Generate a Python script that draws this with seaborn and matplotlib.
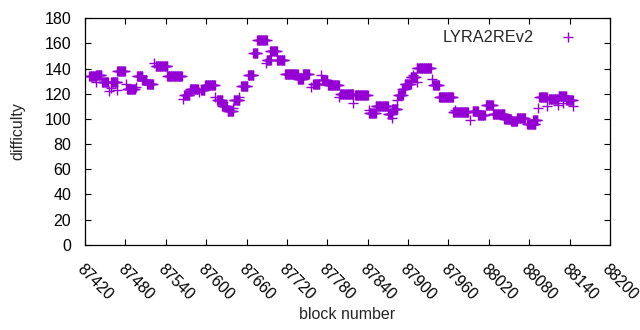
import numpy as np
import pandas as pd
import matplotlib
matplotlib.use("Agg")
import matplotlib.pyplot as plt
import seaborn as sns

# Plateaus of constant difficulty: first block, last block, difficulty
seg_start = [87426, 87436, 87445, 87459, 87468, 87482, 87497, 87505, 87512, 87525,
             87542, 87567, 87576, 87592, 87598, 87616, 87624, 87632, 87641, 87652,
             87662, 87670, 87676, 87690, 87695, 87705, 87717, 87736, 87744, 87759,
             87772, 87781, 87799, 87821, 87842, 87852, 87870, 87876, 87885, 87891,
             87895, 87904, 87913, 87937, 87946, 87967, 87996, 88004, 88016, 88026,
             88043, 88053, 88062, 88077, 88086, 88095, 88109, 88124, 88135]
seg_end = [87435, 87444, 87454, 87468, 87479, 87494, 87505, 87511, 87521, 87542,
           87564, 87575, 87588, 87597, 87613, 87624, 87631, 87640, 87649, 87661,
           87670, 87676, 87690, 87696, 87705, 87716, 87736, 87744, 87753, 87768,
           87780, 87797, 87818, 87840, 87852, 87870, 87876, 87884, 87892, 87895,
           87904, 87912, 87934, 87946, 87967, 87989, 88004, 88014, 88026, 88043,
           88053, 88062, 88074, 88089, 88092, 88106, 88123, 88135, 88145]
seg_value = [134, 135, 129, 129, 138, 124, 134, 131, 128, 142,
             134, 119, 124, 123, 127, 115, 110, 106, 115, 126,
             135, 152, 163, 147, 154, 147, 136, 132, 136, 128,
             131, 127, 120, 119, 105, 110, 104, 108, 119, 124,
             128, 133, 140.5, 127, 117, 105.5, 106, 103, 111, 104,
             100, 98, 101, 96, 99, 117, 116, 118, 115]

# Isolated blocks
single_block = [87436, 87456, 87459, 87468, 87481, 87496, 87523, 87566, 87589, 87613,
                87640, 87649, 87689, 87756, 87771, 87797, 87818, 87842, 87876, 87884,
                87907, 87913, 87936, 87970, 87992, 88093, 88106, 88123, 88130, 88145]
single_value = [129, 122, 124.5, 123, 128, 125, 144, 116, 121, 117,
                109, 117, 144, 125, 135, 117, 113, 107, 101, 115,
                135, 129, 132, 107, 99, 109, 110, 111, 113, 110]

xticks = list(range(87420, 88201, 60))
yticks = list(range(0, 181, 20))

blocks, values = [], []
for s, e, v in zip(seg_start, seg_end, seg_value):
    for b in range(s, e + 1):
        blocks.append(b)
        values.append(v)
blocks += single_block
values += single_value
df = pd.DataFrame({"block": blocks, "difficulty": values})

sns.set_theme(style="white")
plt.rcParams["font.family"] = ["Liberation Sans", "DejaVu Sans"]

fig = plt.figure(figsize=(6.4, 3.3), dpi=100)
ax = fig.add_axes([0.133, 0.258, 0.820, 0.687])

color = "#9400d3"
sns.scatterplot(data=df, x="block", y="difficulty", marker="+", color=color,
                s=48, linewidth=1.0, ax=ax, label="LYRA2REv2", legend=False)

ax.set_xlim(87420, 88200)
ax.set_ylim(0, 180)
ax.set_xticks(xticks)
ax.set_yticks(yticks)
ax.set_xticklabels([str(t) for t in xticks], rotation=-45, ha="left", va="top",
                   rotation_mode="anchor", fontsize=11.3)
ax.set_yticklabels([str(t) for t in yticks], fontsize=11.5)
ax.tick_params(axis="both", direction="in", length=4, width=0.8, colors="black",
               top=True, right=True, bottom=True, left=True)
ax.tick_params(axis="x", pad=12)
ax.tick_params(axis="y", pad=10)
for sp in ax.spines.values():
    sp.set_color("black")
    sp.set_linewidth(0.9)

ax.set_xlabel("block number", fontsize=11.5, labelpad=3)
ax.set_ylabel("difficulty", fontsize=11.5, labelpad=14)

leg = ax.legend(loc="upper right", frameon=False, markerfirst=False, fontsize=11.8,
                handlelength=1.5, handletextpad=1.3, borderaxespad=0.3,
                bbox_to_anchor=(0.965, 1.0))

fig.savefig("out.png", dpi=100)
